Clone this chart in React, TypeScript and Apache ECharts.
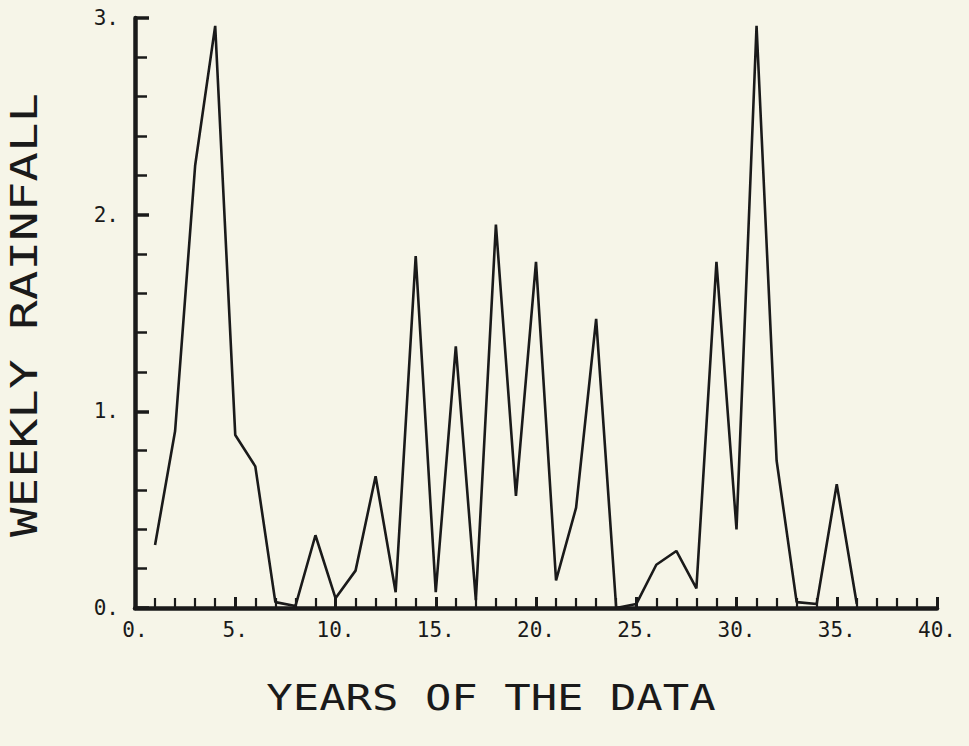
import React, { useEffect, useRef } from "react";
import * as echarts from "echarts";

// ---- data ----
const years: number[] = [
  1, 2, 3, 4, 5, 6, 7, 8, 9, 10, 11, 12, 13, 14, 15, 16, 17, 18,
  19, 20, 21, 22, 23, 24, 25, 26, 27, 28, 29, 30, 31, 32, 33, 34, 35, 36,
];
const rainfall: number[] = [
  0.32, 0.9, 2.25, 2.96, 0.88, 0.72, 0.03, 0.01, 0.37, 0.05, 0.19, 0.67,
  0.08, 1.79, 0.08, 1.33, 0.04, 1.95, 0.57, 1.76, 0.14, 0.51, 1.47, 0.0,
  0.02, 0.22, 0.29, 0.1, 1.76, 0.4, 2.96, 0.75, 0.03, 0.02, 0.63, 0.02,
];
const xTickValues: number[] = [0, 5, 10, 15, 20, 25, 30, 35, 40];
const yTickValues: number[] = [0, 1, 2, 3];
const xTitle = "YEARS OF THE DATA";
const yTitle = "WEEKLY RAINFALL";

const INK = "#1a1a1a";
const PAPER = "#f6f5e8";
const MONO = "'DejaVu Sans Mono', 'Liberation Mono', monospace";

export default function App() {
  const ref = useRef<HTMLDivElement>(null);

  useEffect(() => {
    if (!ref.current) return;
    document.body.style.margin = "0";
    document.body.style.background = PAPER;
    const chart = echarts.init(ref.current, undefined, { renderer: "svg" });

    const points = years.map((y, i) => [y, rainfall[i]]);

    chart.setOption({
      animation: false,
      backgroundColor: PAPER,
      grid: { left: 135, right: 32, top: 18, bottom: 138, containLabel: false },
      xAxis: {
        type: "value",
        min: xTickValues[0],
        max: xTickValues[xTickValues.length - 1],
        interval: 5,
        splitLine: { show: false },
        axisLine: { show: true, onZero: false, lineStyle: { color: INK, width: 4.5 } },
        axisTick: { show: true, inside: true, length: 11, lineStyle: { color: INK, width: 3 } },
        minorTick: { show: true, splitNumber: 5, length: 10, lineStyle: { color: INK, width: 2.2 } },
        axisLabel: {
          show: true,
          margin: 11,
          color: INK,
          fontFamily: MONO,
          fontSize: 21,
          formatter: (v: number) => (xTickValues.includes(v) ? `${v}.` : ""),
        },
      },
      yAxis: {
        type: "value",
        min: yTickValues[0],
        max: yTickValues[yTickValues.length - 1],
        interval: 1,
        splitLine: { show: false },
        axisLine: { show: true, onZero: false, lineStyle: { color: INK, width: 4.5 } },
        axisTick: { show: true, inside: true, length: 14, lineStyle: { color: INK, width: 3.5 } },
        minorTick: { show: true, splitNumber: 5, length: 12, lineStyle: { color: INK, width: 2.5 } },
        axisLabel: {
          show: true,
          margin: 16,
          color: INK,
          fontFamily: MONO,
          fontSize: 21,
          formatter: (v: number) => (yTickValues.includes(v) ? `${v}.` : ""),
        },
      },
      series: [
        {
          type: "line",
          data: points,
          symbol: "none",
          lineStyle: { color: INK, width: 2.6 },
          z: 1,
        },
      ],
      graphic: [
        {
          type: "text",
          x: 491,
          y: 697,
          scaleX: 1.22,
          style: {
            text: xTitle,
            font: `36px ${MONO}`,
            fill: INK,
            textAlign: "center",
            textVerticalAlign: "middle",
            align: "center",
            verticalAlign: "middle",
          },
        },
        {
          type: "text",
          x: 24,
          y: 315,
          rotation: Math.PI / 2,
          scaleX: 1.33,
          style: {
            text: yTitle,
            font: `37px ${MONO}`,
            fill: INK,
            textAlign: "center",
            textVerticalAlign: "middle",
            align: "center",
            verticalAlign: "middle",
          },
        },
      ],
    });

    return () => chart.dispose();
  }, []);

  return (
    <div
      ref={ref}
      style={{ position: "fixed", left: 0, top: 0, width: 969, height: 746 }}
    />
  );
}
